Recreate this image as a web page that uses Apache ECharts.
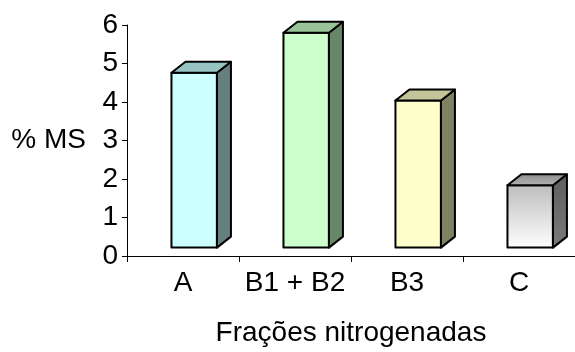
<!DOCTYPE html>
<html>
<head>
<meta charset="utf-8">
<title>Frações nitrogenadas</title>
<script src="https://cdn.jsdelivr.net/npm/echarts@6/dist/echarts.min.js"></script>
<style>
  html, body { margin: 0; padding: 0; background: #fff; }
  #chart { width: 575px; height: 352px; }
</style>
</head>
<body>
<div id="chart"></div>
<script>
// Nitrogen fractions, % of dry matter
const categories = ['A', 'B1 + B2', 'B3', 'C'];
const values = [4.54, 5.58, 3.82, 1.62];
const yTickMin = 0;
const yTickMax = 6;
const yTickStep = 1;

const FONT = "'Liberation Sans', Arial, sans-serif";
const FONT_SIZE = 28;

// face colours for each column: front, top, side
const palette = [
  { front: '#CCFFFF', top: '#99C4C4', side: '#668080' },
  { front: '#CCFFCC', top: '#99C499', side: '#668866' },
  { front: '#FFFFCC', top: '#C4C499', side: '#808062' },
  {
    front: new echarts.graphic.LinearGradient(0, 0, 0, 1, [
      { offset: 0, color: '#BDBDBD' },
      { offset: 1, color: '#FFFFFF' }
    ]),
    top: new echarts.graphic.LinearGradient(0, 1, 0, 0, [
      { offset: 0, color: '#B4B4B4' },
      { offset: 1, color: '#8C8C8C' }
    ]),
    side: new echarts.graphic.LinearGradient(0, 0, 0, 1, [
      { offset: 0, color: '#5E5E5E' },
      { offset: 1, color: '#7A7A7A' }
    ])
  }
];

// draws one 3D column: front rectangle, top and right-side faces
function renderColumn(params, api) {
  const idx = api.value(0);
  const base = api.coord([idx, 0]);
  const top = api.coord([idx, api.value(1)]);
  const bw = api.size([1, 0])[0];
  const lift = 0.075 * bw;     // columns stand slightly back on the floor
  const dx = 0.125 * bw;       // depth, horizontal
  const dy = 0.098 * bw;       // depth, vertical
  const x0 = base[0] - 0.103 * bw;
  const w = 0.406 * bw;
  const yb = base[1] - lift;
  const yt = top[1] - lift;
  const c = palette[idx];
  const stroke = { stroke: '#000', lineWidth: 2, lineJoin: 'round' };
  return {
    type: 'group',
    children: [
      {
        type: 'rect',
        shape: { x: x0, y: yt, width: w, height: yb - yt },
        style: Object.assign({ fill: c.front }, stroke)
      },
      {
        type: 'polygon',
        shape: { points: [[x0 + w, yt], [x0 + w + dx, yt - dy], [x0 + w + dx, yb - dy], [x0 + w, yb]] },
        style: Object.assign({ fill: c.side }, stroke)
      },
      {
        type: 'polygon',
        shape: { points: [[x0, yt], [x0 + dx, yt - dy], [x0 + w + dx, yt - dy], [x0 + w, yt]] },
        style: Object.assign({ fill: c.top }, stroke)
      }
    ]
  };
}

const chart = echarts.init(document.getElementById('chart'), null, { renderer: 'canvas' });

chart.setOption({
  animation: false,
  backgroundColor: '#fff',
  textStyle: { fontFamily: FONT, color: '#000' },
  grid: { left: 127, top: 25, width: 454, height: 231, containLabel: false },
  xAxis: {
    type: 'category',
    data: categories,
    name: 'Frações nitrogenadas',
    nameLocation: 'middle',
    nameGap: 63,
    nameTextStyle: { fontFamily: FONT, fontSize: FONT_SIZE, color: '#000' },
    axisLine: { lineStyle: { color: '#000', width: 1 } },
    axisTick: { show: true, length: 6, alignWithLabel: false, lineStyle: { color: '#000' } },
    axisLabel: { fontFamily: FONT, fontSize: FONT_SIZE, color: '#000', margin: 13, interval: 0 },
    splitLine: { show: false }
  },
  yAxis: {
    type: 'value',
    min: yTickMin,
    max: yTickMax,
    interval: yTickStep,
    name: '% MS',
    nameLocation: 'middle',
    nameRotate: 0,
    nameGap: 41,
    nameTextStyle: { fontFamily: FONT, fontSize: FONT_SIZE, color: '#000' },
    axisLine: { show: true, lineStyle: { color: '#000', width: 1 } },
    axisTick: { show: true, length: 5, lineStyle: { color: '#000' } },
    axisLabel: { fontFamily: FONT, fontSize: FONT_SIZE, color: '#000', margin: 9 },
    splitLine: { show: false }
  },
  series: [{
    type: 'custom',
    renderItem: renderColumn,
    data: values.map((v, i) => [i, v]),
    encode: { x: 0, y: 1 },
    clip: false
  }]
});
</script>
</body>
</html>
